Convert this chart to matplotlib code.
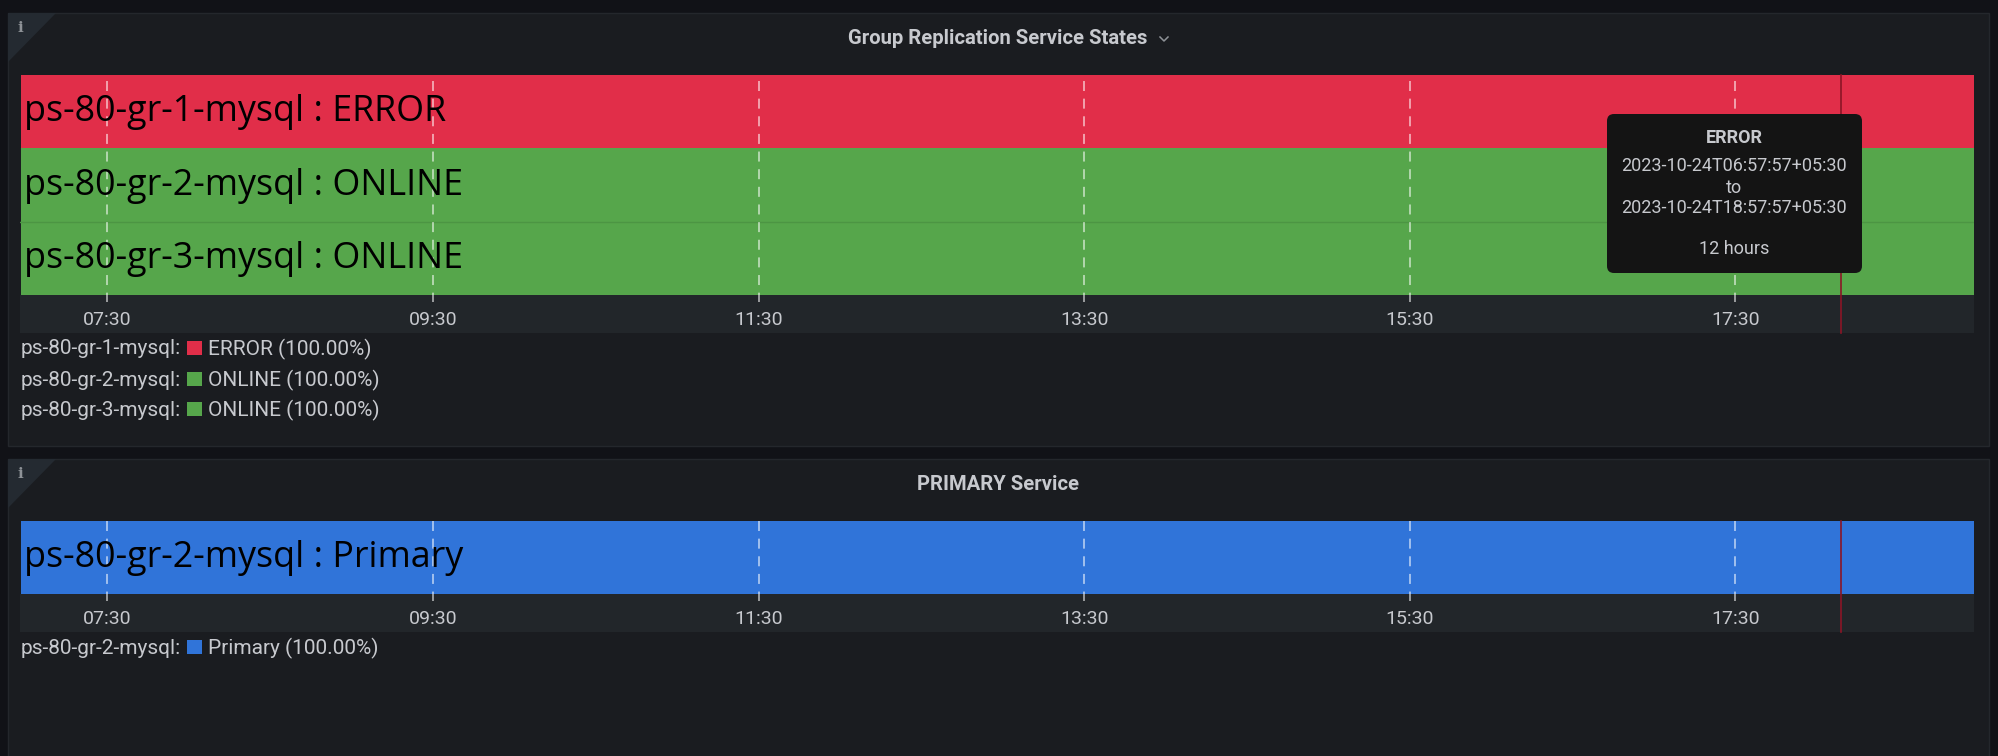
import matplotlib
matplotlib.use("Agg")
import matplotlib.pyplot as plt
from matplotlib.patches import Rectangle, FancyBboxPatch, Polygon
from matplotlib.lines import Line2D
from matplotlib.transforms import IdentityTransform

# ---- data ----
range_start = "06:57:57"
range_end = "18:57:57"
cursor_time = "18:09:00"
tick_labels = ["07:30", "09:30", "11:30", "13:30", "15:30", "17:30"]

state_hosts = ["ps-80-gr-1-mysql", "ps-80-gr-2-mysql", "ps-80-gr-3-mysql"]
state_values = ["ERROR", "ONLINE", "ONLINE"]
state_share = [100.00, 100.00, 100.00]

primary_hosts = ["ps-80-gr-2-mysql"]
primary_values = ["Primary"]
primary_share = [100.00]

state_colors = {"ERROR": "#e12e49", "ONLINE": "#56a64b", "Primary": "#3074d9"}

tooltip_lines = ["ERROR", "2023-10-24T06:57:57+05:30", "to",
                 "2023-10-24T18:57:57+05:30", "12 hours"]

# ---- style ----
W, H = 1999, 756
BG = "#111217"
PANEL = "#1a1c20"
STRIP = "#22262a"
TEXT = "#c7c9ce"


def hours(s):
    parts = [int(p) for p in s.split(":")] + [0]
    return parts[0] + parts[1] / 60 + parts[2] / 3600


plt.rcParams["font.family"] = ["Roboto", "DejaVu Sans"]
plt.rcParams["lines.scale_dashes"] = False

fig = plt.figure(figsize=(W / 100, H / 100), dpi=100, facecolor=BG)


def fx(x):
    return x / W


def fy(y):
    return 1 - y / H


def frect(x0, y0, x1, y1, color, z=0):
    fig.add_artist(Rectangle((fx(x0), fy(y1)), (x1 - x0) / W, (y1 - y0) / H,
                             transform=fig.transFigure, facecolor=color,
                             edgecolor="none", zorder=z))


def panel(top, bottom, bar_top, bar_bottom, strip_bottom, grid_top, title,
          title_x, title_y, hosts, values, share, legend_ys):
    # panel background
    fig.add_artist(FancyBboxPatch((fx(8), fy(bottom)), (1989 - 8) / W, (bottom - top) / H,
                                  boxstyle="square,pad=0", transform=fig.transFigure,
                                  facecolor=PANEL, edgecolor="#24272c", linewidth=1, zorder=0))
    # info corner
    fig.add_artist(Polygon([(fx(8), fy(top)), (fx(56), fy(top)), (fx(8), fy(top + 49))],
                           closed=True, transform=fig.transFigure, facecolor="#242a31",
                           edgecolor="none", zorder=1))
    fig.text(fx(20), fy(top + 15), "i", color="#8e9297", fontsize=11, weight="bold",
             family="DejaVu Serif", ha="center", va="center", zorder=2)
    fig.text(fx(title_x), fy(title_y), title, color=TEXT, fontsize=14.6, weight="bold",
             ha="center", va="center", zorder=2)
    # time strip
    frect(20.5, bar_bottom, 1974, strip_bottom, STRIP, z=1)

    ax = fig.add_axes([fx(20.5), fy(bar_bottom), (1974 - 20.5) / W, (bar_bottom - bar_top) / H])
    ax.set_zorder(3)
    ax.patch.set_alpha(0)
    for s in ax.spines.values():
        s.set_visible(False)
    t0, t1 = hours(range_start), hours(range_end)
    ypos = list(range(len(hosts)))
    ax.barh(ypos, [t1 - t0] * len(hosts), left=t0, height=1.0,
            color=[state_colors[v] for v in values], linewidth=0)
    ax.set_xlim(t0, t1)
    ax.set_ylim(len(hosts) - 0.5, -0.5)
    ax.set_yticks([])
    ticks = [hours(t) for t in tick_labels]
    ax.set_xticks(ticks, tick_labels)
    ax.tick_params(axis="x", length=0, pad=11.5, labelsize=14, labelcolor=TEXT)

    # row dividers
    for y, v0, v1 in zip(ypos[:-1], values[:-1], values[1:]):
        if v0 == v1:
            ax.axhline(y + 0.5, color="#4c9543", linewidth=1, zorder=2)

    # grid lines run slightly below the bars
    trans = ax.get_xaxis_transform()
    span = bar_bottom - bar_top
    ylow = -7 / span
    yhigh = 1 - (grid_top - bar_top) / span
    for t in ticks:
        ax.plot([t, t], [yhigh, ylow], transform=trans, clip_on=False, color="white",
                alpha=0.55, linewidth=1.4, linestyle=(0, (7.2, 5.5)),
                dash_capstyle="butt", zorder=4)

    # cursor
    cur = hours(cursor_time)
    ax.plot([cur, cur], [1, -(strip_bottom - bar_bottom) / span], transform=trans,
            clip_on=False, color="#8b1526", linewidth=1.2, zorder=5)

    # bar labels
    for y, h, v in zip(ypos, hosts, values):
        ax.annotate(f"{h} : {v}", xy=(t0, y), xytext=(2.3, -7.0), textcoords="offset points",
                    fontsize=25.8, family="Open Sans", color="black", va="baseline",
                    ha="left", zorder=6)

    # legend
    for ly, h, v, p in zip(legend_ys, hosts, values, share):
        fig.text(fx(20.5), fy(ly + 1), f"{h}:", color=TEXT, fontsize=15, ha="left",
                 va="center", zorder=2)
        frect(187.5, ly - 7, 202, ly + 7, state_colors[v], z=2)
        fig.text(fx(207.5), fy(ly + 1), f"{v} ({p:.2f}%)", color=TEXT, fontsize=15,
                 ha="left", va="center", zorder=2)
    return ax


panel(13, 446, 74.7, 295, 333, 81, "Group Replication Service States", 998, 39,
      state_hosts, state_values, state_share, [348, 379, 409])
panel(459, 790, 521, 594, 632, 521, "PRIMARY Service", 998.5, 485,
      primary_hosts, primary_values, primary_share, [647])

# title chevron
fig.add_artist(Line2D([fx(1160), fx(1164), fx(1168)], [fy(37), fy(41), fy(37)],
                      transform=fig.transFigure, color="#8e9297", linewidth=1.1, zorder=2))

# tooltip
fig.add_artist(FancyBboxPatch((1607, H - 273), 255, 159,
                              boxstyle="round,pad=0,rounding_size=7",
                              transform=IdentityTransform(),
                              facecolor="#141414", edgecolor="none", zorder=10))
tip_y = [138, 166, 188, 208, 249]
for i, (line, ty) in enumerate(zip(tooltip_lines, tip_y)):
    fig.text(fx(1734), fy(ty), line, color=TEXT, fontsize=13,
             weight="bold" if i == 0 else "normal", ha="center", va="center", zorder=11)

fig.savefig("out.png", dpi=100, facecolor=BG)
